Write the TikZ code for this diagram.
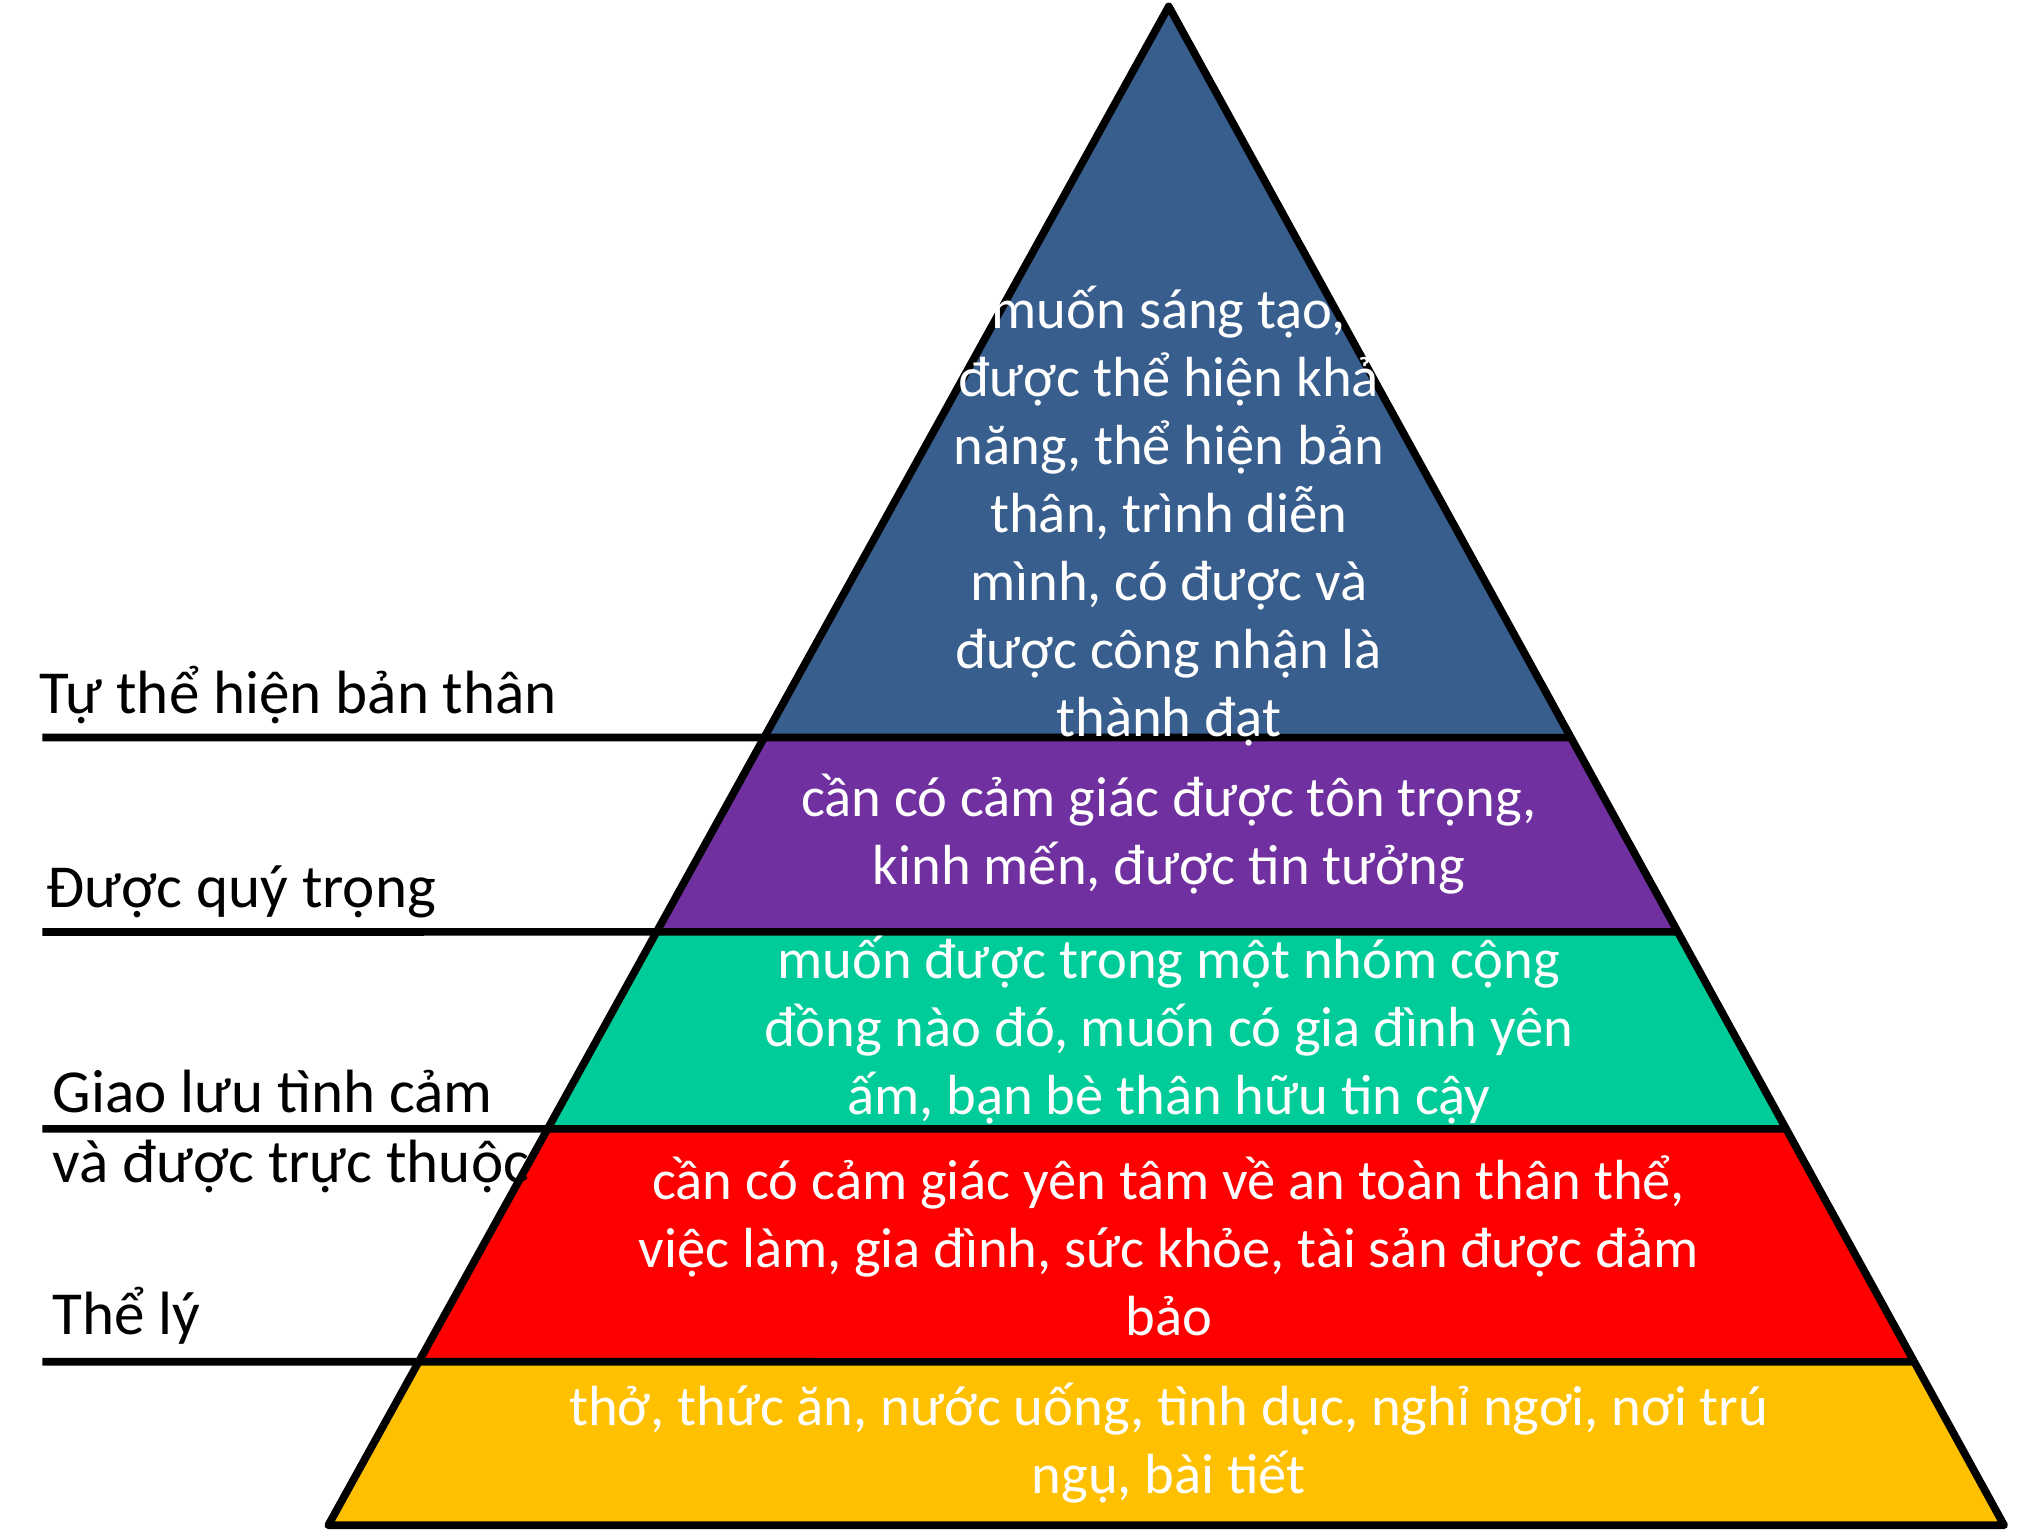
\documentclass[tikz,border=0pt]{standalone}
\usepackage{fontspec}
\setmainfont{Carlito}
\usetikzlibrary{calc}
\definecolor{topblue}{RGB}{56,94,142}
\definecolor{esteem}{RGB}{112,48,160}
\definecolor{belong}{RGB}{0,204,153}
\definecolor{safety}{RGB}{255,0,0}
\definecolor{basic}{RGB}{255,192,0}
\begin{document}
\begin{tikzpicture}
	[x=0.01cm,y=-0.01cm,
	line width=1.7pt,
	band/.style={draw=black,line join=round},
	bandtext/.style={text=white,align=center,font=\fontsize{12.5}{15}\selectfont},
	sidelabel/.style={anchor=west,inner sep=0pt,font=\fontsize{13.5}{16}\selectfont}]
	\useasboundingbox (0,0) rectangle (1567,1195);
	\coordinate (apex) at (908,5);
	\coordinate (bl) at (255,1185);
	\coordinate (br) at (1557,1185);
	% band edges
	\coordinate (l1) at ($(apex)!0.4814!(bl)$);
	\coordinate (r1) at ($(apex)!0.4814!(br)$);
	\coordinate (l2) at ($(apex)!0.6093!(bl)$);
	\coordinate (r2) at ($(apex)!0.6093!(br)$);
	\coordinate (l3) at ($(apex)!0.7390!(bl)$);
	\coordinate (r3) at ($(apex)!0.7390!(br)$);
	\coordinate (l4) at ($(apex)!0.8924!(bl)$);
	\coordinate (r4) at ($(apex)!0.8924!(br)$);
	\fill[topblue] (apex) -- (r1) -- (l1) -- cycle;
	\fill[esteem] (l1) -- (r1) -- (r2) -- (l2) -- cycle;
	\fill[belong] (l2) -- (r2) -- (r3) -- (l3) -- cycle;
	\fill[safety] (l3) -- (r3) -- (r4) -- (l4) -- cycle;
	\fill[basic] (l4) -- (r4) -- (br) -- (bl) -- cycle;
	\draw[band] (apex) -- (br) -- (bl) -- cycle;
	% side lines
	\coordinate (s1) at (33,573);
	\coordinate (s2) at (33,724);
	\coordinate (s3) at (33,877);
	\coordinate (s4) at (33,1058);
	\draw (s1) -- (r1);
	\draw (s2) -- (r2);
	\draw (s3) -- (r3);
	\draw (s4) -- (r4);
	% texts
	\node[bandtext] (t1) at (908,401) {muốn sáng tạo,\\được thể hiện khả\\năng, thể hiện bản\\thân, trình diễn\\mình, có được và\\được công nhận là\\thành đạt};
	\node[bandtext] (t2) at (908,648) {cần có cảm giác được tôn trọng,\\kinh mến, được tin tưởng};
	\node[bandtext] (t3) at (908,800) {muốn được trong một nhóm cộng\\đồng nào đó, muốn có gia đình yên\\ấm, bạn bè thân hữu tin cậy};
	\node[bandtext] (t4) at (908,968) {cần có cảm giác yên tâm về an toàn thân thể,\\việc làm, gia đình, sức khỏe, tài sản được đảm\\bảo};
	\node[bandtext] (t5) at (908,1121) {thở, thức ăn, nước uống, tình dục, nghỉ ngơi, nơi trú\\ngụ, bài tiết};
	\node[sidelabel] (n1) at (28,540) {Tự thể hiện bản thân};
	\node[sidelabel] (n2) at (33,693) {Được quý trọng};
	\node[sidelabel] (n3) at (38,848) {Giao lưu tình cảm};
	\node[sidelabel] (n4) at (38,906) {và được trực thuộc};
	\node[sidelabel] (n5) at (38,1022) {Thể lý};
\end{tikzpicture}
\end{document}
